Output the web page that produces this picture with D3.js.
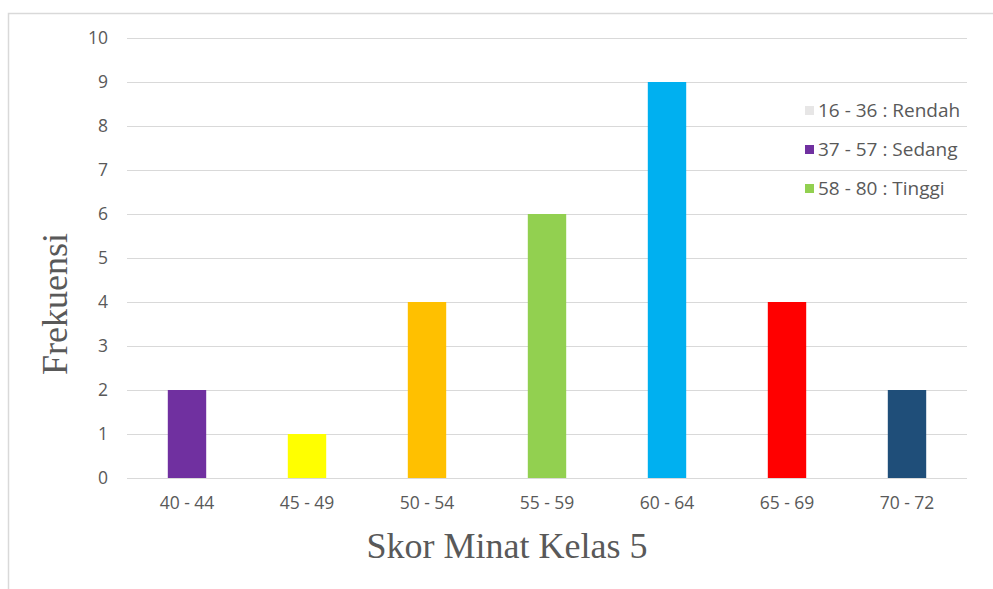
<!DOCTYPE html>
<html>
<head>
<meta charset="utf-8">
<script src="https://cdn.jsdelivr.net/npm/d3@7"></script>
<style>
  body { margin: 0; background: #fff; }
  .axis text { font-family: "Open Sans", "Liberation Sans", sans-serif; font-size: 17.5px; fill: #595959; }
  .title { font-family: "Liberation Serif", "DejaVu Serif", serif; font-size: 36px; fill: #595959; }
  .legend text { font-family: "Open Sans", "Liberation Sans", sans-serif; font-size: 19px; fill: #595959; }
</style>
</head>
<body>
<div id="chart"></div>
<script>
var categories = ["40 - 44", "45 - 49", "50 - 54", "55 - 59", "60 - 64", "65 - 69", "70 - 72"];
var frequencies = [2, 1, 4, 6, 9, 4, 2];
var barColors = ["#7030A0", "#FFFF00", "#FFC000", "#92D050", "#00B0F0", "#FF0000", "#1F4E79"];
var yTicks = [0, 1, 2, 3, 4, 5, 6, 7, 8, 9, 10];
var legendLabels = ["16 - 36 : Rendah", "37 - 57 : Sedang", "58 - 80 : Tinggi"];
var legendColors = ["#E7E6E6", "#7030A0", "#92D050"];

var width = 993, height = 589;
var margin = {top: 38, right: 26, bottom: 111, left: 127};
var chartWidth = width - margin.left - margin.right;
var chartHeight = height - margin.top - margin.bottom;

var svg = d3.select("#chart").append("svg")
    .attr("width", width)
    .attr("height", height);

// chart frame
svg.append("rect")
    .attr("x", 8.5).attr("y", 13.5)
    .attr("width", 1000).attr("height", 600)
    .attr("fill", "none")
    .attr("stroke", "#d9d9d9")
    .attr("stroke-width", 1.5);

var g = svg.append("g")
    .attr("transform", `translate(${margin.left}, ${margin.top})`);

var xScale = d3.scaleBand()
    .domain(categories)
    .range([0, chartWidth])
    .paddingInner(0.68)
    .paddingOuter(0.34);

var yScale = d3.scaleLinear()
    .domain([0, 10])
    .range([chartHeight, 0]);

var yAxis = d3.axisLeft(yScale)
    .tickValues(yTicks)
    .tickSize(-chartWidth)
    .tickPadding(19)
    .tickFormat(d3.format("d"));

g.append("g")
    .attr("class", "y axis")
    .call(yAxis)
    .call(s => s.select(".domain").remove())
    .call(s => s.selectAll("line").attr("stroke", "#d9d9d9").attr("stroke-width", 1));

var xAxis = d3.axisBottom(xScale).tickSize(0).tickPadding(19);

g.append("g")
    .attr("class", "x axis")
    .attr("transform", `translate(0,${chartHeight})`)
    .call(xAxis)
    .call(s => s.select(".domain").remove());

g.selectAll(".bar")
    .data(frequencies)
    .enter()
    .append("rect")
    .attr("class", "bar")
    .attr("x", (d, i) => xScale(categories[i]))
    .attr("y", d => yScale(d))
    .attr("width", xScale.bandwidth())
    .attr("height", d => chartHeight - yScale(d))
    .attr("fill", (d, i) => barColors[i]);

// axis titles
svg.append("text")
    .attr("class", "title")
    .attr("text-anchor", "middle")
    .attr("x", 507)
    .attr("y", 558)
    .text("Skor Minat Kelas 5");

svg.append("text")
    .attr("class", "title")
    .attr("text-anchor", "middle")
    .attr("transform", "translate(67, 304) rotate(-90)")
    .text("Frekuensi");

// legend
var legend = svg.append("g")
    .attr("class", "legend")
    .selectAll("g")
    .data(legendLabels)
    .join("g")
    .attr("transform", (d, i) => `translate(805, ${110 + i * 39})`);

legend.append("rect")
    .attr("x", 0).attr("y", -4)
    .attr("width", 9).attr("height", 9)
    .attr("fill", (d, i) => legendColors[i]);

legend.append("text")
    .attr("x", 13)
    .attr("y", 0)
    .attr("dy", "0.35em")
    .text(d => d);
</script>
</body>
</html>
